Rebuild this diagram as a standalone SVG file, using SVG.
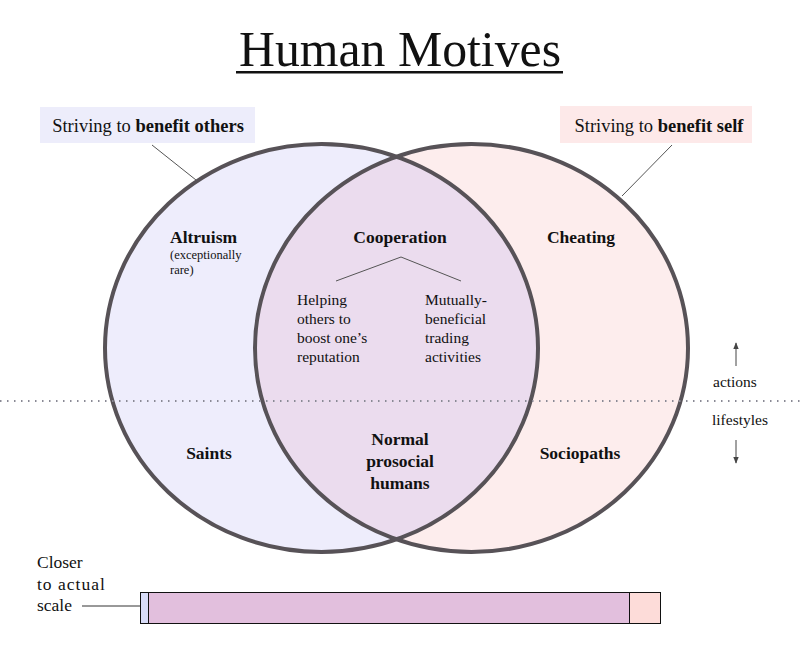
<svg xmlns="http://www.w3.org/2000/svg" width="800" height="650" viewBox="0 0 800 650">
<style>
text{font-family:"Liberation Serif","DejaVu Serif",serif;fill:#111}
.b{font-weight:bold;font-size:17.5px}
.s{font-size:15.5px}
.xs{font-size:12.5px}
.lab{font-size:18.5px}
.ax{font-size:15.5px}
.sc{font-size:17.5px}
.ring{fill:none;stroke:#575257;stroke-width:4}
.thin{stroke:#555;stroke-width:1;fill:none}
</style>
<defs>
<clipPath id="clipL"><ellipse cx="321.5" cy="348" rx="216.5" ry="204"/></clipPath>
<marker id="ah" viewBox="0 0 10 10" refX="9" refY="5" markerWidth="7" markerHeight="7" orient="auto"><path d="M0,1 L10,5 L0,9 Z" fill="#444"/></marker>
</defs>
<rect width="800" height="650" fill="#fff"/>
<g id="title">
<text x="400" y="66" text-anchor="middle" textLength="322" lengthAdjust="spacingAndGlyphs" style="font-size:50px">Human Motives</text>
<rect x="236" y="71" width="327" height="2.5" fill="#111"/>
</g>
<g id="circles">
<ellipse id="left-circle" cx="321.5" cy="348" rx="216.5" ry="204" fill="#eeedfc"/>
<ellipse id="right-circle" cx="471.5" cy="348" rx="216.5" ry="204" fill="#fdeded"/>
<ellipse cx="471.5" cy="348" rx="216.5" ry="204" fill="#ebdcee" clip-path="url(#clipL)"/>
<ellipse class="ring" cx="321.5" cy="348" rx="216.5" ry="204"/>
<ellipse class="ring" cx="471.5" cy="348" rx="216.5" ry="204"/>
</g>
<line x1="0" y1="401" x2="800" y2="401" stroke="#8a8a95" stroke-width="2" stroke-dasharray="1.5 5.5"/>
<g id="connectors">
<line class="thin" x1="152" y1="145" x2="196" y2="180"/>
<line class="thin" x1="672" y1="145" x2="622" y2="196"/>
<polyline class="thin" points="336,281 401,257 461,281"/>
<line x1="736" y1="366" x2="736" y2="343" stroke="#444" stroke-width="1" marker-end="url(#ah)"/>
<line x1="736" y1="440" x2="736" y2="463" stroke="#444" stroke-width="1" marker-end="url(#ah)"/>
<line x1="82" y1="606" x2="140" y2="606" stroke="#333" stroke-width="1"/>
</g>
<g id="label-others">
<rect x="40" y="107" width="215" height="36" fill="#ededfb"/>
<text class="lab" x="148" y="132" text-anchor="middle">Striving to <tspan font-weight="bold">benefit others</tspan></text>
</g>
<g id="label-self">
<rect x="560" y="106" width="192" height="37" fill="#fde9e9"/>
<text class="lab" x="659" y="132" text-anchor="middle">Striving to <tspan font-weight="bold">benefit self</tspan></text>
</g>
<g id="altruism">
<text class="b" x="170" y="243">Altruism</text>
<text class="xs" x="170" y="259">(exceptionally</text>
<text class="xs" x="170" y="274">rare)</text>
</g>
<g id="cooperation">
<text class="b" x="400" y="243" text-anchor="middle">Cooperation</text>
</g>
<g id="helping">
<text class="s" x="297" y="305">Helping</text>
<text class="s" x="297" y="324">others to</text>
<text class="s" x="297" y="343">boost one’s</text>
<text class="s" x="297" y="362">reputation</text>
</g>
<g id="mutual">
<text class="s" x="425" y="305">Mutually-</text>
<text class="s" x="425" y="324">beneficial</text>
<text class="s" x="425" y="343">trading</text>
<text class="s" x="425" y="362">activities</text>
</g>
<g id="cheating">
<text class="b" x="581" y="243" text-anchor="middle">Cheating</text>
</g>
<g id="saints">
<text class="b" x="209" y="459" text-anchor="middle">Saints</text>
</g>
<g id="normal">
<text class="b" x="400" y="445" text-anchor="middle">Normal</text>
<text class="b" x="400" y="467" text-anchor="middle">prosocial</text>
<text class="b" x="400" y="489" text-anchor="middle">humans</text>
</g>
<g id="sociopaths">
<text class="b" x="580" y="459" text-anchor="middle">Sociopaths</text>
</g>
<g id="axis">
<text class="ax" x="713" y="387">actions</text>
<text class="ax" x="712" y="425">lifestyles</text>
</g>
<g id="scale">
<text class="sc" x="37" y="568">Closer</text>
<text class="sc" x="37" y="590" letter-spacing="1">to actual</text>
<text class="sc" x="37" y="611">scale</text>
<rect x="140.5" y="592.5" width="8" height="31" fill="#d8dcf8" stroke="#111" stroke-width="1"/>
<rect x="148.5" y="592.5" width="481" height="31" fill="#e2bfdd" stroke="#111" stroke-width="1"/>
<rect x="629.5" y="592.5" width="31" height="31" fill="#fddcd9" stroke="#111" stroke-width="1"/>
</g>
</svg>
